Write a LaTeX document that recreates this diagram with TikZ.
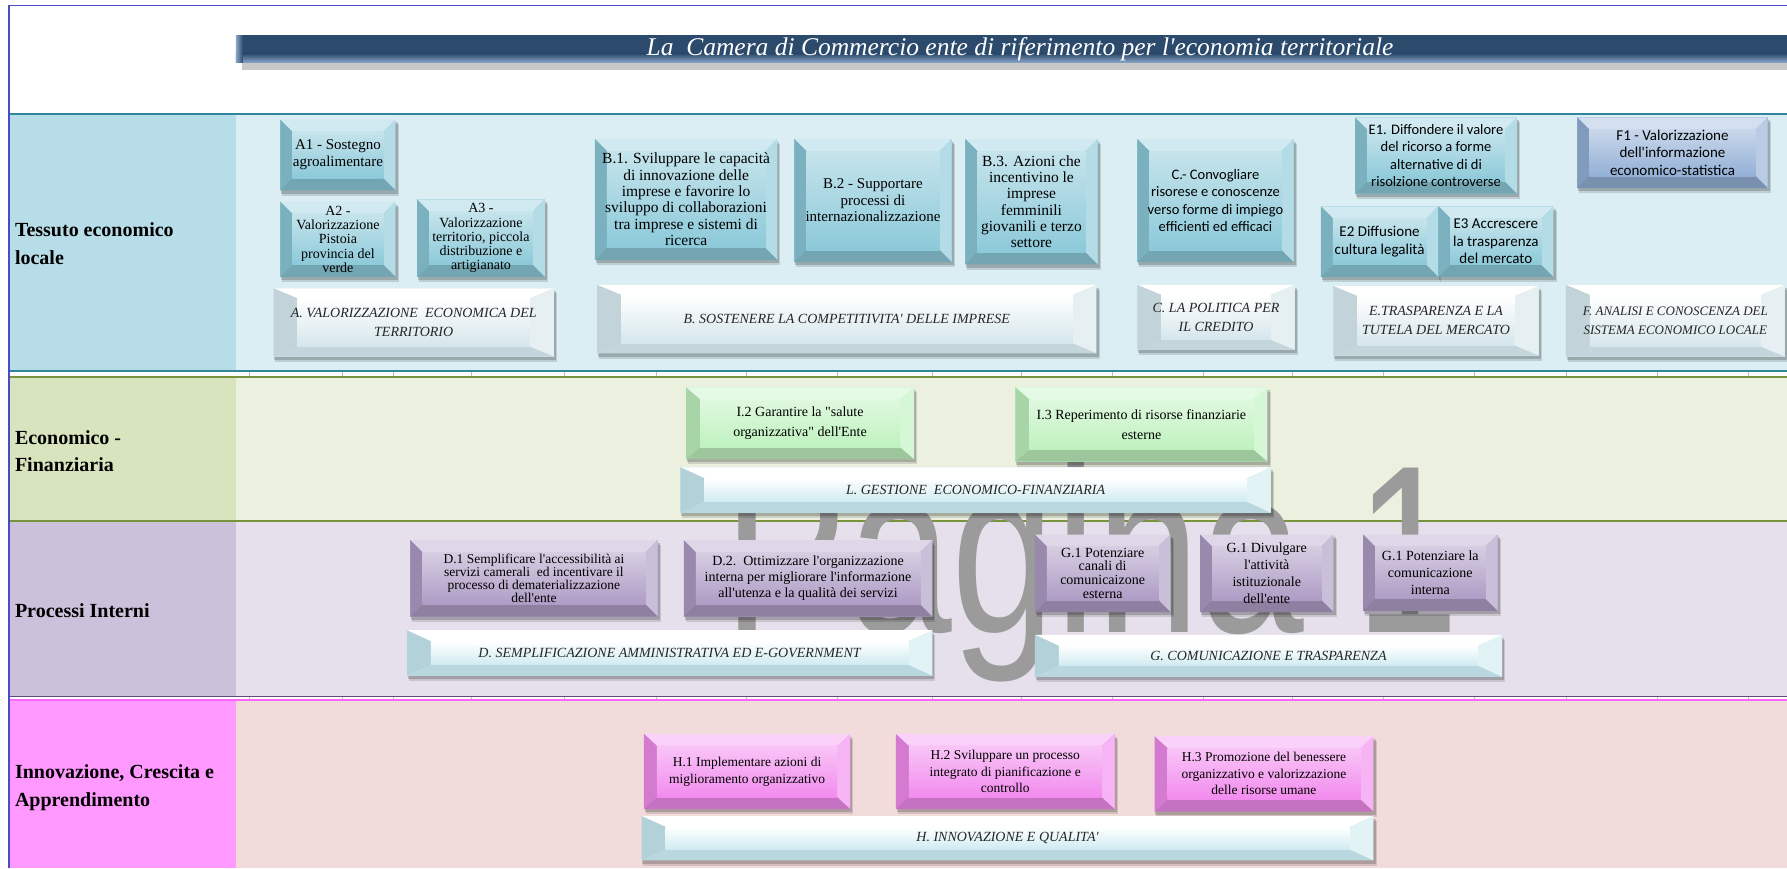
\documentclass[tikz,border=0pt]{standalone}
\usepackage{fontspec}
\defaultfontfeatures[\rmfamily]{}
\setmainfont{Liberation Serif}
\newfontfamily\calfont{Carlito}
\newfontfamily\wmfont{Liberation Sans}
\usetikzlibrary{calc}
\pgfdeclarelayer{bg}
\pgfdeclarelayer{wm}
\pgfdeclarelayer{shd}
\pgfsetlayers{bg,wm,shd,main}

\definecolor{outerblue}{HTML}{4B4BC8}
\definecolor{bonelab}{HTML}{B7DDE8}
\definecolor{bonebg}{HTML}{DAEEF3}
\definecolor{boneline}{HTML}{31859C}
\definecolor{btwolab}{HTML}{D7E4BD}
\definecolor{btwobg}{HTML}{EBF1DE}
\definecolor{btwoline}{HTML}{77933C}
\definecolor{bthrlab}{HTML}{CCC1DA}
\definecolor{bthrbg}{HTML}{E6E0EC}
\definecolor{bthrline}{HTML}{604A7B}
\definecolor{bfourlab}{HTML}{FF99FF}
\definecolor{bfourbg}{HTML}{F2DCDB}
\definecolor{bfourline}{HTML}{FF66FF}
\definecolor{titlec}{HTML}{2C4A6C}
\definecolor{titlelow}{HTML}{8AA7C9}
\definecolor{cblue}{HTML}{8CC9D9}
\definecolor{cfblue}{HTML}{93B0D6}
\definecolor{cgreen}{HTML}{BFF2BF}
\definecolor{cpurple}{HTML}{AE9CC5}
\definecolor{cpink}{HTML}{F28BEE}
\definecolor{tbface}{HTML}{D5E6EC}
\definecolor{tbleft}{HTML}{C2D3D9}
\definecolor{tbright}{HTML}{E6F0F3}
\definecolor{tbbot}{HTML}{C4D6DC}
\definecolor{lbface}{HTML}{CFEBF1}
\definecolor{lbleft}{HTML}{B3D1D8}
\definecolor{lbright}{HTML}{E2F3F6}
\definecolor{lbbot}{HTML}{B9D7DE}
\definecolor{bartext}{HTML}{262626}
\definecolor{wmgray}{HTML}{9B9B9B}
\definecolor{gridc}{HTML}{BFBFBF}

\newcommand\fs[2]{\fontsize{#1}{#2}\selectfont}
\newcommand\ppb{path picture bounding box}

\tikzset{
  % top, left, right, bottom, face top, face bottom, dx, dy
  bevx/.style n args={8}{fill=#6, draw=none, path picture={
     \fill[#1] (\ppb.north west) -- (\ppb.north east) -- ([xshift=-#7,yshift=-#8]\ppb.north east) -- ([xshift=#7,yshift=-#8]\ppb.north west) -- cycle;
     \fill[#2] (\ppb.north west) -- ([xshift=#7,yshift=-#8]\ppb.north west) -- ([xshift=#7,yshift=#8]\ppb.south west) -- (\ppb.south west) -- cycle;
     \fill[#3] (\ppb.north east) -- ([xshift=-#7,yshift=-#8]\ppb.north east) -- ([xshift=-#7,yshift=#8]\ppb.south east) -- (\ppb.south east) -- cycle;
     \fill[#4] (\ppb.south west) -- ([xshift=#7,yshift=#8]\ppb.south west) -- ([xshift=-#7,yshift=#8]\ppb.south east) -- (\ppb.south east) -- cycle;
     \shade[top color=#5, bottom color=#6] ([xshift=#7,yshift=-#8]\ppb.north west) rectangle ([xshift=-#7,yshift=#8]\ppb.south east);
  }},
  bev/.style n args={3}{bevx={#1!40!white}{#1!88!black}{#1!65!white}{#1!82!black}{#1!50!white}{#1}{#2}{#3}},
  bluebox/.style={bev={cblue}{12pt}{12pt}},
  fbox/.style={bev={cfblue}{12pt}{12pt}},
  topbar/.style={bevx={white}{tbleft}{tbright}{tbbot}{white}{tbface}{24pt}{10pt}, text=bartext, font={\itshape\fs{14}{19}}},
  lowbar/.style={bevx={white}{lbleft}{lbright}{lbbot}{white}{lbface}{24pt}{11pt}, text=bartext, font={\itshape\fs{14}{19}}},
  greenbox/.style={bev={cgreen}{14pt}{12pt}},
  purplebox/.style={bev={cpurple}{12pt}{12pt}},
  pinkbox/.style={bev={cpink}{13pt}{12pt}},
  lab/.style={anchor=west, align=left, inner sep=0pt, font={\bfseries\fs{20}{27.5}}},
  tick/.style={gridc, line width=0.8pt},
}

% box: name, x1, y1, x2, y2, style, text
\newcommand\bx[7]{%
  \node[text=black, #6, align=center, inner sep=1pt,
        minimum width={(#4-#2)*1.1397pt}, minimum height={(#5-#3)*1.1397pt}]
        (#1) at ({(#2+#4)/2},{(#3+#5)/2}) {#7};
  \begin{pgfonlayer}{shd}
    \fill[black, opacity=0.13] ([xshift=2pt,yshift=-5pt]#1.north west) rectangle ([xshift=3pt,yshift=-5pt]#1.south east);
    \fill[black, opacity=0.18] ([xshift=1pt,yshift=-3pt]#1.north west) rectangle ([xshift=2pt,yshift=-3pt]#1.south east);
  \end{pgfonlayer}
}

\begin{document}
\begin{tikzpicture}[x=1.1397pt,y=-1.1397pt]
\useasboundingbox (0,0) rectangle (1568,762);

\begin{pgfonlayer}{bg}
  \fill[white] (0,0) rectangle (1568,762);
  % band 1
  \fill[bonelab] (8,100) rectangle (207,326);
  \fill[bonebg] (207,100) rectangle (1568,326);
  % band 2
  \fill[btwolab] (8,330) rectangle (207,457);
  \fill[btwobg] (207,330) rectangle (1568,457);
  % band 3
  \fill[bthrlab] (8,458) rectangle (207,611);
  \fill[bthrbg] (207,458) rectangle (1568,611);
  % band 4
  \fill[bfourlab] (8,614) rectangle (207,762);
  \fill[bfourbg] (207,614) rectangle (1568,762);
  % grid ticks
  \foreach \gx in {219,300,345,414,495,576,655,735,818,896,976,1056,1134,1214,1294,1374,1454,1534} {
    \draw[tick] (\gx,326) -- (\gx,331);
    \draw[tick] (\gx,611) -- (\gx,615);
  }
  % band lines
  \draw[boneline, line width=2.2pt] (8,100) -- (1568,100);
  \draw[boneline, line width=2.2pt] (8,325.5) -- (1568,325.5);
  \draw[btwoline, line width=2pt] (8,330.5) -- (1568,330.5);
  \draw[btwoline, line width=2pt] (8,457) -- (1568,457);
  \draw[bthrline, line width=1pt] (8,611) -- (1568,611);
  \draw[bfourline, line width=2.2pt] (8,614) -- (1568,614);
  % outer border
  \draw[outerblue, line width=1.5pt] (8,762) -- (8,5) -- (1568,5);
\end{pgfonlayer}

% watermark
\begin{pgfonlayer}{wm}
  \node[anchor=base west, inner sep=0pt, xscale=0.78, text=wmgray, font={\wmfont\fs{239}{240}}] (wmark) at (635,555) {Pagina 1};
\end{pgfonlayer}

% title bar
\fill[black, opacity=0.22] (212,55) rectangle (1568,61);
\fill[titlec] (207,31) rectangle (1568,55);
\shade[top color=titlec, bottom color=titlelow] (207,47) rectangle (1568,55);
\shade[left color=titlelow, right color=titlec] (207,31) rectangle (213,55);
\node[text=white, font={\itshape\fs{25.5}{28}}, inner sep=0pt] (title) at (895,43) {La~~Camera di Commercio ente di riferimento per l'economia territoriale};

% labels
\node[lab] (lab1) at (13,214) {Tessuto economico\\locale};
\node[lab] (lab2) at (13,396) {Economico -\\Finanziaria};
\node[lab] (lab3) at (13,536) {Processi Interni};
\node[lab] (lab4) at (13,691) {Innovazione, Crescita e\\Apprendimento};

% band 1 boxes
\bx{A1}{246}{105}{347}{167}{bluebox, font={\fs{15}{17}}}{A1 - Sostegno\\agroalimentare}
\bx{A2}{246}{177}{347}{243}{bluebox, font={\fs{14}{14.3}}}{A2 -\\Valorizzazione\\Pistoia\\provincia del\\verde}
\bx{A3}{366}{175}{478}{243}{bluebox, font={\fs{14}{14.3}}}{A3 -\\Valorizzazione\\territorio, piccola\\distribuzione e\\artigianato}
\bx{Abar}{240}{253}{486}{313}{topbar}{A. VALORIZZAZIONE~~ECONOMICA DEL\\TERRITORIO}
\bx{B1}{522}{122}{682}{228}{bluebox, font={\fs{15.5}{16.4}}}{B.1. Sviluppare le capacità\\di innovazione delle\\imprese e favorire lo\\sviluppo di collaborazioni\\tra imprese e sistemi di\\ricerca}
\bx{B2}{697}{122}{835}{230}{bluebox, font={\fs{15}{16.5}}}{B.2 - Supportare\\processi di\\internazionalizzazione}
\bx{B3}{847}{122}{963}{232}{bluebox, font={\fs{15.5}{16.2}}}{B.3. Azioni che\\incentivino le\\imprese\\femminili\\giovanili e terzo\\settore}
\bx{Bbar}{524}{250}{962}{310}{topbar}{B. SOSTENERE LA COMPETITIVITA' DELLE IMPRESE}
\bx{C}{998}{122}{1135}{230}{bluebox, font={\calfont\fs{14.5}{17.5}}}{C.- Convogliare\\risorese e conoscenze\\verso forme di impiego\\efficienti ed efficaci}
\bx{Cbar}{998}{250}{1136}{307}{topbar}{C. LA POLITICA PER\\IL CREDITO}
\bx{E1}{1189}{103}{1331}{170}{bluebox, font={\calfont\fs{14.5}{17.3}}}{E1. Diffondere il valore\\del ricorso a forme\\alternative di di\\risolzione controverse}
\bx{E2}{1159}{181}{1262}{243}{bluebox, font={\calfont\fs{15}{17.5}}}{E2 Diffusione\\cultura legalità}
\bx{E3}{1262}{181}{1363}{243}{bluebox, font={\calfont\fs{15}{17.5}}}{E3 Accrescere\\la trasparenza\\del mercato}
\bx{Ebar}{1170}{251}{1350}{312}{topbar}{E.TRASPARENZA E LA\\TUTELA DEL MERCATO}
\bx{F1}{1384}{103}{1551}{165}{fbox, font={\calfont\fs{15}{17.5}}}{F1 - Valorizzazione\\dell'informazione\\economico-statistica}
\bx{Fbar}{1374}{250}{1566}{313}{topbar, font={\itshape\fs{13}{19}}}{F. ANALISI E CONOSCENZA DEL\\SISTEMA ECONOMICO LOCALE}

% band 2 boxes
\bx{I2}{602}{340}{802}{403}{greenbox, font={\fs{14}{20.5}}}{I.2 Garantire la "salute\\organizzativa" dell'Ente}
\bx{I3}{891}{340}{1112}{405}{greenbox, font={\fs{14}{20.5}}}{I.3 Reperimento di risorse finanziarie\\esterne}
\bx{Lbar}{597}{410}{1115}{450}{lowbar}{L. GESTIONE~~ECONOMICO-FINANZIARIA}

% band 3 boxes
\bx{D1}{360}{474}{577}{541}{purplebox, font={\fs{13.5}{12.8}}}{D.1 Semplificare l'accessibilità ai\\servizi camerali~~ed incentivare il\\processo di dematerializzazione\\dell'ente}
\bx{D2}{600}{474}{818}{541}{purplebox, font={\fs{14}{16}}}{D.2.~~Ottimizzare l'organizzazione\\interna per migliorare l'informazione\\all'utenza e la qualità dei servizi}
\bx{Dbar}{357}{553}{818}{593}{lowbar}{D. SEMPLIFICAZIONE AMMINISTRATIVA ED E-GOVERNMENT}
\bx{G1a}{908}{469}{1027}{537}{purplebox, font={\fs{14}{13.7}}}{G.1 Potenziare\\canali di\\comunicaizone\\esterna}
\bx{G1b}{1053}{469}{1170}{537}{purplebox, font={\fs{14}{17}}}{G.1 Divulgare\\l'attività\\istituzionale\\dell'ente}
\bx{G1c}{1196}{469}{1314}{536}{purplebox, font={\fs{14}{17}}}{G.1 Potenziare la\\comunicazione\\interna}
\bx{Gbar}{908}{557}{1318}{594}{lowbar}{G. COMUNICAZIONE E TRASPARENZA}

% band 4 boxes
\bx{H1}{565}{644}{746}{710}{pinkbox, font={\fs{13.5}{16.5}}}{H.1 Implementare azioni di\\miglioramento organizzativo}
\bx{H2}{786}{644}{978}{710}{pinkbox, font={\fs{13.5}{16.5}}}{H.2 Sviluppare un processo\\integrato di pianificazione e\\controllo}
\bx{H3}{1013}{646}{1205}{712}{pinkbox, font={\fs{13.5}{16.5}}}{H.3 Promozione del benessere\\organizzativo e valorizzazione\\delle risorse umane}
\bx{Hbar}{563}{716}{1205}{755}{lowbar}{H. INNOVAZIONE E QUALITA'}
\end{tikzpicture}
\end{document}
